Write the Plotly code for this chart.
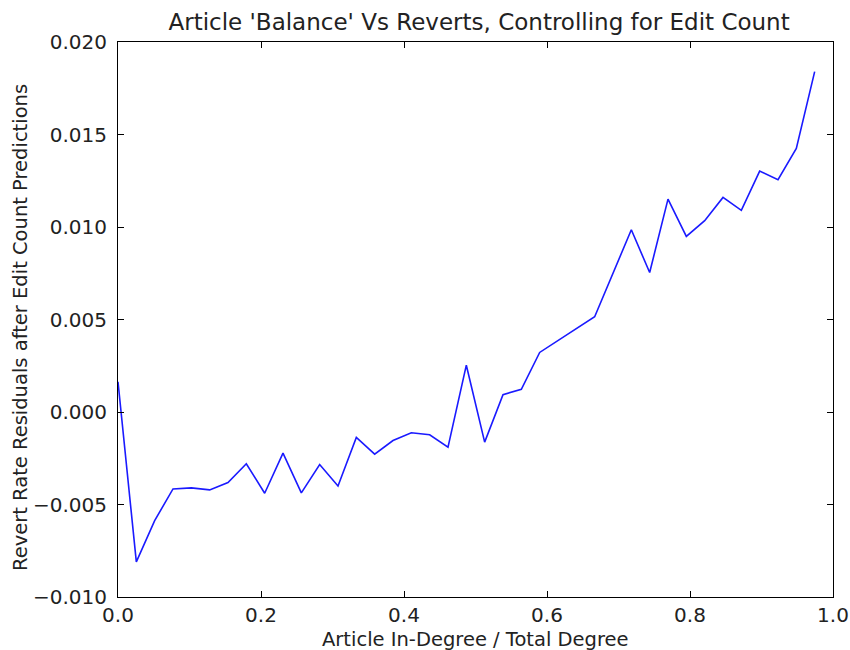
import plotly.graph_objects as go

# Binned in-degree fraction (bin index / 39); bins 24 and 25 are empty
bin_index = [0, 1, 2, 3, 4, 5, 6, 7, 8, 9, 10, 11, 12, 13, 14, 15, 16, 17, 18, 19,
             20, 21, 22, 23, 26, 27, 28, 29, 30, 31, 32, 33, 34, 35, 36, 37, 38]
in_degree_ratio = [i / 39 for i in bin_index]

revert_residuals = [
    0.00163, -0.00810, -0.00587, -0.00416, -0.00410, -0.00421, -0.00381, -0.00280,
    -0.00439, -0.00222, -0.00437, -0.00284, -0.00400, -0.00137, -0.00228, -0.00154,
    -0.00112, -0.00123, -0.00190, 0.00253, -0.00163, 0.00094, 0.00123, 0.00322,
    0.00515, 0.00750, 0.00985, 0.00754, 0.01151, 0.00949, 0.01034, 0.01160,
    0.01090, 0.01302, 0.01256, 0.01425, 0.01840,
]

x_ticks = [0.0, 0.2, 0.4, 0.6, 0.8, 1.0]
y_ticks = [-0.010, -0.005, 0.000, 0.005, 0.010, 0.015, 0.020]

FONT = "DejaVu Sans"
PLOT_LEFT, PLOT_RIGHT, PLOT_TOP, PLOT_BOTTOM = 118, 833, 42, 597

fig = go.Figure(
    go.Scatter(
        x=in_degree_ratio,
        y=revert_residuals,
        mode="lines",
        line=dict(color="#1a1aff", width=1.6),
        hoverinfo="x+y",
    )
)

axis_common = dict(
    showline=True,
    linecolor="black",
    linewidth=1,
    mirror="allticks",
    ticks="inside",
    ticklen=6,
    tickwidth=1,
    tickcolor="black",
    showgrid=False,
    zeroline=False,
    automargin=False,
    tickfont=dict(family=FONT, size=20, color="#222222"),
)

fig.update_layout(
    width=850,
    height=650,
    margin=dict(l=PLOT_LEFT, r=850 - PLOT_RIGHT, t=PLOT_TOP, b=650 - PLOT_BOTTOM),
    paper_bgcolor="white",
    plot_bgcolor="white",
    showlegend=False,
    title=dict(
        text="Article 'Balance' Vs Reverts, Controlling for Edit Count",
        font=dict(family=FONT, size=23, color="#222222"),
        x=0.505,
        xref="paper",
        xanchor="center",
        y=1 - 22 / 650,
        yref="container",
        yanchor="middle",
    ),
    xaxis=dict(axis_common, range=[0, 1], tickvals=x_ticks, tickformat=".1f", ticklabelstandoff=0),
    yaxis=dict(axis_common, range=[-0.010, 0.020], tickvals=y_ticks, tickformat=".3f", ticklabelstandoff=6),
    annotations=[
        dict(
            text="Article In-Degree / Total Degree",
            xref="paper", yref="paper", x=0.5, y=0,
            xanchor="center", yanchor="middle", yshift=-(639 - PLOT_BOTTOM),
            showarrow=False,
            font=dict(family=FONT, size=19.5, color="#222222"),
        ),
        dict(
            text="Revert Rate Residuals after Edit Count Predictions",
            xref="paper", yref="paper", x=0, y=(PLOT_BOTTOM - 328) / (PLOT_BOTTOM - PLOT_TOP),
            xanchor="center", yanchor="middle", xshift=-(PLOT_LEFT - 20),
            textangle=-90, showarrow=False,
            font=dict(family=FONT, size=19.5, color="#222222"),
        ),
    ],
)

fig.write_html("out.html")
